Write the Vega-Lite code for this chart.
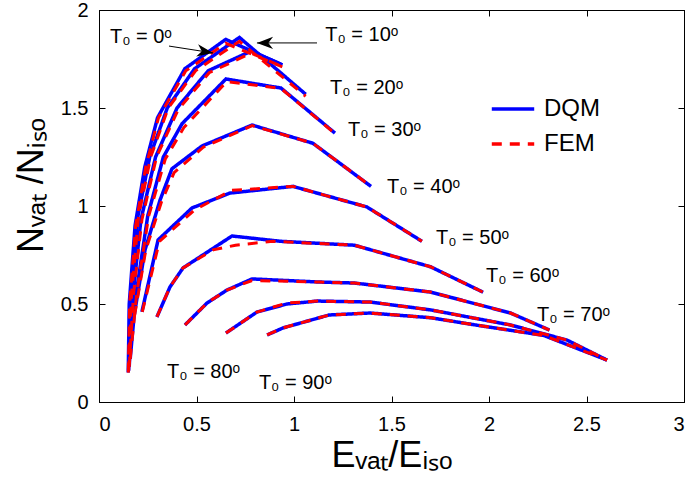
{
  "$schema": "https://vega.github.io/schema/vega-lite/v6.json",
  "width": 585,
  "height": 392,
  "autosize": {"type": "none"},
  "padding": {"left": 99, "top": 10, "right": 11, "bottom": 82},
  "background": "white",
  "config": {
    "view": {"stroke": "black", "strokeWidth": 1},
    "font": "Liberation Sans",
    "axis": {
      "grid": false,
      "domainColor": "black",
      "domainWidth": 1,
      "tickColor": "black",
      "tickWidth": 1,
      "tickSize": -6,
      "labelColor": "black",
      "labelFont": "Liberation Sans",
      "labelFontSize": 20,
      "titleColor": "black",
      "titleFont": "Liberation Sans",
      "titleFontWeight": "normal",
      "titleFontSize": 36
    }
  },
  "datasets": {
    "curves": [
      {"t": 0, "m": "DQM", "o": 0, "x": 0.15, "y": 0.15},
      {"t": 0, "m": "DQM", "o": 1, "x": 0.155, "y": 0.5},
      {"t": 0, "m": "DQM", "o": 2, "x": 0.185, "y": 0.9},
      {"t": 0, "m": "DQM", "o": 3, "x": 0.235, "y": 1.2},
      {"t": 0, "m": "DQM", "o": 4, "x": 0.3, "y": 1.45},
      {"t": 0, "m": "DQM", "o": 5, "x": 0.44, "y": 1.7},
      {"t": 0, "m": "DQM", "o": 6, "x": 0.65, "y": 1.85},
      {"t": 0, "m": "DQM", "o": 7, "x": 0.94, "y": 1.72},
      {"t": 10, "m": "DQM", "o": 0, "x": 0.152, "y": 0.16},
      {"t": 10, "m": "DQM", "o": 1, "x": 0.165, "y": 0.55},
      {"t": 10, "m": "DQM", "o": 2, "x": 0.2, "y": 0.95},
      {"t": 10, "m": "DQM", "o": 3, "x": 0.26, "y": 1.25},
      {"t": 10, "m": "DQM", "o": 4, "x": 0.35, "y": 1.5},
      {"t": 10, "m": "DQM", "o": 5, "x": 0.49, "y": 1.7},
      {"t": 10, "m": "DQM", "o": 6, "x": 0.72, "y": 1.86},
      {"t": 10, "m": "DQM", "o": 7, "x": 1.06, "y": 1.57},
      {"t": 20, "m": "DQM", "o": 0, "x": 0.155, "y": 0.18},
      {"t": 20, "m": "DQM", "o": 1, "x": 0.175, "y": 0.55},
      {"t": 20, "m": "DQM", "o": 2, "x": 0.215, "y": 0.93},
      {"t": 20, "m": "DQM", "o": 3, "x": 0.29, "y": 1.25},
      {"t": 20, "m": "DQM", "o": 4, "x": 0.4, "y": 1.5},
      {"t": 20, "m": "DQM", "o": 5, "x": 0.56, "y": 1.69},
      {"t": 20, "m": "DQM", "o": 6, "x": 0.78, "y": 1.79},
      {"t": 20, "m": "DQM", "o": 7, "x": 0.94, "y": 1.72},
      {"t": 30, "m": "DQM", "o": 0, "x": 0.16, "y": 0.22},
      {"t": 30, "m": "DQM", "o": 1, "x": 0.19, "y": 0.55},
      {"t": 30, "m": "DQM", "o": 2, "x": 0.25, "y": 0.95},
      {"t": 30, "m": "DQM", "o": 3, "x": 0.33, "y": 1.25},
      {"t": 30, "m": "DQM", "o": 4, "x": 0.426, "y": 1.42},
      {"t": 30, "m": "DQM", "o": 5, "x": 0.651, "y": 1.648},
      {"t": 30, "m": "DQM", "o": 6, "x": 0.933, "y": 1.602},
      {"t": 30, "m": "DQM", "o": 7, "x": 1.21, "y": 1.372},
      {"t": 40, "m": "DQM", "o": 0, "x": 0.18, "y": 0.44},
      {"t": 40, "m": "DQM", "o": 1, "x": 0.236, "y": 0.776},
      {"t": 40, "m": "DQM", "o": 2, "x": 0.313, "y": 1.03},
      {"t": 40, "m": "DQM", "o": 3, "x": 0.374, "y": 1.19},
      {"t": 40, "m": "DQM", "o": 4, "x": 0.528, "y": 1.306},
      {"t": 40, "m": "DQM", "o": 5, "x": 0.785, "y": 1.413},
      {"t": 40, "m": "DQM", "o": 6, "x": 1.097, "y": 1.32},
      {"t": 40, "m": "DQM", "o": 7, "x": 1.395, "y": 1.1},
      {"t": 50, "m": "DQM", "o": 0, "x": 0.22, "y": 0.46},
      {"t": 50, "m": "DQM", "o": 1, "x": 0.303, "y": 0.827},
      {"t": 50, "m": "DQM", "o": 2, "x": 0.477, "y": 0.99},
      {"t": 50, "m": "DQM", "o": 3, "x": 0.672, "y": 1.066},
      {"t": 50, "m": "DQM", "o": 4, "x": 0.995, "y": 1.1},
      {"t": 50, "m": "DQM", "o": 5, "x": 1.374, "y": 0.995},
      {"t": 50, "m": "DQM", "o": 6, "x": 1.656, "y": 0.82},
      {"t": 60, "m": "DQM", "o": 0, "x": 0.297, "y": 0.434},
      {"t": 60, "m": "DQM", "o": 1, "x": 0.364, "y": 0.587},
      {"t": 60, "m": "DQM", "o": 2, "x": 0.431, "y": 0.684},
      {"t": 60, "m": "DQM", "o": 3, "x": 0.682, "y": 0.847},
      {"t": 60, "m": "DQM", "o": 4, "x": 0.93, "y": 0.82},
      {"t": 60, "m": "DQM", "o": 5, "x": 1.31, "y": 0.8},
      {"t": 60, "m": "DQM", "o": 6, "x": 1.7, "y": 0.69},
      {"t": 60, "m": "DQM", "o": 7, "x": 1.97, "y": 0.56},
      {"t": 70, "m": "DQM", "o": 0, "x": 0.441, "y": 0.393},
      {"t": 70, "m": "DQM", "o": 1, "x": 0.554, "y": 0.505},
      {"t": 70, "m": "DQM", "o": 2, "x": 0.656, "y": 0.571},
      {"t": 70, "m": "DQM", "o": 3, "x": 0.785, "y": 0.628},
      {"t": 70, "m": "DQM", "o": 4, "x": 1.13, "y": 0.612},
      {"t": 70, "m": "DQM", "o": 5, "x": 1.31, "y": 0.607},
      {"t": 70, "m": "DQM", "o": 6, "x": 1.7, "y": 0.561},
      {"t": 70, "m": "DQM", "o": 7, "x": 2.11, "y": 0.454},
      {"t": 70, "m": "DQM", "o": 8, "x": 2.31, "y": 0.367},
      {"t": 80, "m": "DQM", "o": 0, "x": 0.651, "y": 0.352},
      {"t": 80, "m": "DQM", "o": 1, "x": 0.81, "y": 0.459},
      {"t": 80, "m": "DQM", "o": 2, "x": 0.964, "y": 0.5},
      {"t": 80, "m": "DQM", "o": 3, "x": 1.12, "y": 0.515},
      {"t": 80, "m": "DQM", "o": 4, "x": 1.39, "y": 0.51},
      {"t": 80, "m": "DQM", "o": 5, "x": 1.7, "y": 0.47},
      {"t": 80, "m": "DQM", "o": 6, "x": 2.11, "y": 0.393},
      {"t": 80, "m": "DQM", "o": 7, "x": 2.4, "y": 0.316},
      {"t": 80, "m": "DQM", "o": 8, "x": 2.605, "y": 0.214},
      {"t": 90, "m": "DQM", "o": 0, "x": 0.862, "y": 0.342},
      {"t": 90, "m": "DQM", "o": 1, "x": 0.944, "y": 0.378},
      {"t": 90, "m": "DQM", "o": 2, "x": 1.18, "y": 0.444},
      {"t": 90, "m": "DQM", "o": 3, "x": 1.39, "y": 0.454},
      {"t": 90, "m": "DQM", "o": 4, "x": 1.7, "y": 0.43},
      {"t": 90, "m": "DQM", "o": 5, "x": 1.95, "y": 0.39},
      {"t": 90, "m": "DQM", "o": 6, "x": 2.28, "y": 0.34},
      {"t": 90, "m": "DQM", "o": 7, "x": 2.605, "y": 0.214},

      {"t": 0, "m": "FEM", "o": 0, "x": 0.15, "y": 0.15},
      {"t": 0, "m": "FEM", "o": 1, "x": 0.157, "y": 0.5},
      {"t": 0, "m": "FEM", "o": 2, "x": 0.188, "y": 0.9},
      {"t": 0, "m": "FEM", "o": 3, "x": 0.24, "y": 1.2},
      {"t": 0, "m": "FEM", "o": 4, "x": 0.305, "y": 1.45},
      {"t": 0, "m": "FEM", "o": 5, "x": 0.445, "y": 1.69},
      {"t": 0, "m": "FEM", "o": 6, "x": 0.65, "y": 1.83},
      {"t": 0, "m": "FEM", "o": 7, "x": 0.94, "y": 1.71},
      {"t": 10, "m": "FEM", "o": 0, "x": 0.152, "y": 0.16},
      {"t": 10, "m": "FEM", "o": 1, "x": 0.167, "y": 0.55},
      {"t": 10, "m": "FEM", "o": 2, "x": 0.203, "y": 0.95},
      {"t": 10, "m": "FEM", "o": 3, "x": 0.265, "y": 1.25},
      {"t": 10, "m": "FEM", "o": 4, "x": 0.355, "y": 1.5},
      {"t": 10, "m": "FEM", "o": 5, "x": 0.495, "y": 1.69},
      {"t": 10, "m": "FEM", "o": 6, "x": 0.72, "y": 1.84},
      {"t": 10, "m": "FEM", "o": 7, "x": 1.06, "y": 1.56},
      {"t": 20, "m": "FEM", "o": 0, "x": 0.155, "y": 0.18},
      {"t": 20, "m": "FEM", "o": 1, "x": 0.177, "y": 0.55},
      {"t": 20, "m": "FEM", "o": 2, "x": 0.22, "y": 0.93},
      {"t": 20, "m": "FEM", "o": 3, "x": 0.295, "y": 1.25},
      {"t": 20, "m": "FEM", "o": 4, "x": 0.405, "y": 1.49},
      {"t": 20, "m": "FEM", "o": 5, "x": 0.565, "y": 1.68},
      {"t": 20, "m": "FEM", "o": 6, "x": 0.78, "y": 1.78},
      {"t": 20, "m": "FEM", "o": 7, "x": 0.94, "y": 1.71},
      {"t": 30, "m": "FEM", "o": 0, "x": 0.16, "y": 0.22},
      {"t": 30, "m": "FEM", "o": 1, "x": 0.193, "y": 0.55},
      {"t": 30, "m": "FEM", "o": 2, "x": 0.255, "y": 0.95},
      {"t": 30, "m": "FEM", "o": 3, "x": 0.34, "y": 1.24},
      {"t": 30, "m": "FEM", "o": 4, "x": 0.435, "y": 1.4},
      {"t": 30, "m": "FEM", "o": 5, "x": 0.655, "y": 1.635},
      {"t": 30, "m": "FEM", "o": 6, "x": 0.933, "y": 1.6},
      {"t": 30, "m": "FEM", "o": 7, "x": 1.21, "y": 1.37},
      {"t": 40, "m": "FEM", "o": 0, "x": 0.182, "y": 0.44},
      {"t": 40, "m": "FEM", "o": 1, "x": 0.24, "y": 0.776},
      {"t": 40, "m": "FEM", "o": 2, "x": 0.32, "y": 1.02},
      {"t": 40, "m": "FEM", "o": 3, "x": 0.385, "y": 1.17},
      {"t": 40, "m": "FEM", "o": 4, "x": 0.535, "y": 1.3},
      {"t": 40, "m": "FEM", "o": 5, "x": 0.785, "y": 1.41},
      {"t": 40, "m": "FEM", "o": 6, "x": 1.097, "y": 1.32},
      {"t": 40, "m": "FEM", "o": 7, "x": 1.395, "y": 1.1},
      {"t": 50, "m": "FEM", "o": 0, "x": 0.222, "y": 0.46},
      {"t": 50, "m": "FEM", "o": 1, "x": 0.31, "y": 0.82},
      {"t": 50, "m": "FEM", "o": 2, "x": 0.49, "y": 0.98},
      {"t": 50, "m": "FEM", "o": 3, "x": 0.68, "y": 1.08},
      {"t": 50, "m": "FEM", "o": 4, "x": 0.995, "y": 1.1},
      {"t": 50, "m": "FEM", "o": 5, "x": 1.374, "y": 0.995},
      {"t": 50, "m": "FEM", "o": 6, "x": 1.656, "y": 0.82},
      {"t": 60, "m": "FEM", "o": 0, "x": 0.297, "y": 0.434},
      {"t": 60, "m": "FEM", "o": 1, "x": 0.364, "y": 0.587},
      {"t": 60, "m": "FEM", "o": 2, "x": 0.431, "y": 0.684},
      {"t": 60, "m": "FEM", "o": 3, "x": 0.585, "y": 0.776},
      {"t": 60, "m": "FEM", "o": 4, "x": 0.7, "y": 0.8},
      {"t": 60, "m": "FEM", "o": 5, "x": 0.89, "y": 0.82},
      {"t": 60, "m": "FEM", "o": 6, "x": 1.31, "y": 0.8},
      {"t": 60, "m": "FEM", "o": 7, "x": 1.7, "y": 0.69},
      {"t": 60, "m": "FEM", "o": 8, "x": 1.97, "y": 0.56},
      {"t": 70, "m": "FEM", "o": 0, "x": 0.441, "y": 0.393},
      {"t": 70, "m": "FEM", "o": 1, "x": 0.554, "y": 0.505},
      {"t": 70, "m": "FEM", "o": 2, "x": 0.656, "y": 0.571},
      {"t": 70, "m": "FEM", "o": 3, "x": 0.785, "y": 0.62},
      {"t": 70, "m": "FEM", "o": 4, "x": 1.13, "y": 0.612},
      {"t": 70, "m": "FEM", "o": 5, "x": 1.31, "y": 0.607},
      {"t": 70, "m": "FEM", "o": 6, "x": 1.7, "y": 0.561},
      {"t": 70, "m": "FEM", "o": 7, "x": 2.11, "y": 0.454},
      {"t": 70, "m": "FEM", "o": 8, "x": 2.31, "y": 0.367},
      {"t": 80, "m": "FEM", "o": 0, "x": 0.651, "y": 0.352},
      {"t": 80, "m": "FEM", "o": 1, "x": 0.81, "y": 0.459},
      {"t": 80, "m": "FEM", "o": 2, "x": 0.964, "y": 0.505},
      {"t": 80, "m": "FEM", "o": 3, "x": 1.12, "y": 0.515},
      {"t": 80, "m": "FEM", "o": 4, "x": 1.39, "y": 0.51},
      {"t": 80, "m": "FEM", "o": 5, "x": 1.7, "y": 0.47},
      {"t": 80, "m": "FEM", "o": 6, "x": 2.11, "y": 0.393},
      {"t": 80, "m": "FEM", "o": 7, "x": 2.4, "y": 0.316},
      {"t": 80, "m": "FEM", "o": 8, "x": 2.605, "y": 0.214},
      {"t": 90, "m": "FEM", "o": 0, "x": 0.862, "y": 0.342},
      {"t": 90, "m": "FEM", "o": 1, "x": 0.944, "y": 0.378},
      {"t": 90, "m": "FEM", "o": 2, "x": 1.18, "y": 0.444},
      {"t": 90, "m": "FEM", "o": 3, "x": 1.39, "y": 0.454},
      {"t": 90, "m": "FEM", "o": 4, "x": 1.7, "y": 0.43},
      {"t": 90, "m": "FEM", "o": 5, "x": 1.95, "y": 0.39},
      {"t": 90, "m": "FEM", "o": 6, "x": 2.28, "y": 0.34},
      {"t": 90, "m": "FEM", "o": 7, "x": 2.605, "y": 0.214}
    ],
    "labels": [
      {"label": "T₀ = 0ᵒ", "x": 0.056, "y": 1.86},
      {"label": "T₀ = 10ᵒ", "x": 1.16, "y": 1.87},
      {"label": "T₀ = 20ᵒ", "x": 1.185, "y": 1.6},
      {"label": "T₀ = 30ᵒ", "x": 1.277, "y": 1.388},
      {"label": "T₀ = 40ᵒ", "x": 1.477, "y": 1.097},
      {"label": "T₀ = 50ᵒ", "x": 1.728, "y": 0.837},
      {"label": "T₀ = 60ᵒ", "x": 1.985, "y": 0.643},
      {"label": "T₀ = 70ᵒ", "x": 2.246, "y": 0.444},
      {"label": "T₀ = 80ᵒ", "x": 0.349, "y": 0.153},
      {"label": "T₀ = 90ᵒ", "x": 0.82, "y": 0.097}
    ],
    "arrows": [
      {"a": "T0=0", "x": 0.359, "y": 1.816, "x2": 0.585, "y2": 1.781},
      {"a": "T0=10", "x": 1.118, "y": 1.832, "x2": 0.81, "y2": 1.832}
    ]
  },
  "resolve": {"axis": {"x": "independent", "y": "independent"}},
  "layer": [
    {
      "data": {"name": "curves"},
      "transform": [{"filter": "datum.m === 'DQM'"}],
      "mark": {"type": "line", "strokeWidth": 3.5, "strokeCap": "butt", "strokeJoin": "miter"},
      "encoding": {
        "x": {"field": "x", "type": "quantitative", "scale": {"domain": [0, 3], "nice": false},
              "axis": {"orient": "bottom", "values": [0, 0.5, 1, 1.5, 2, 2.5, 3], "format": "~g", "labelPadding": 18, "title": "Eᵥₐₜ/Eᵢₛₒ", "titlePadding": 4}},
        "y": {"field": "y", "type": "quantitative", "scale": {"domain": [0, 2], "nice": false},
              "axis": {"orient": "left", "values": [0, 0.5, 1, 1.5, 2], "format": "~g", "labelPadding": 17, "title": "Nᵥₐₜ /Nᵢₛₒ", "titlePadding": 10, "titleY": 175}},
        "color": {"field": "m", "type": "nominal", "scale": {"domain": ["DQM", "FEM"], "range": ["#0000ff", "#ff0000"]},
                  "legend": {"title": null, "orient": "none", "legendX": 391, "legendY": 76, "symbolType": "stroke", "symbolSize": 1800, "symbolStrokeWidth": 3.5, "labelFontSize": 24, "labelFont": "Liberation Sans", "labelColor": "black", "labelOffset": 8, "rowPadding": 0, "padding": 0}},
        "strokeDash": {"field": "m", "type": "nominal", "scale": {"domain": ["DQM", "FEM"], "range": [[1, 0], [10, 8]]}},
        "detail": {"field": "t"},
        "order": {"field": "o", "type": "quantitative"}
      }
    },
    {
      "data": {"name": "curves"},
      "transform": [{"filter": "datum.m === 'FEM'"}],
      "mark": {"type": "line", "strokeWidth": 3, "strokeCap": "butt", "strokeJoin": "miter"},
      "encoding": {
        "x": {"field": "x", "type": "quantitative", "axis": {"orient": "top", "values": [0, 0.5, 1, 1.5, 2, 2.5, 3], "labels": false, "title": null}},
        "y": {"field": "y", "type": "quantitative", "axis": {"orient": "right", "values": [0, 0.5, 1, 1.5, 2], "labels": false, "title": null}},
        "color": {"field": "m", "type": "nominal"},
        "strokeDash": {"field": "m", "type": "nominal"},
        "detail": {"field": "t"},
        "order": {"field": "o", "type": "quantitative"}
      }
    },
    {
      "data": {"name": "labels"},
      "mark": {"type": "text", "align": "left", "baseline": "middle", "fontSize": 20, "font": "Liberation Sans", "color": "black"},
      "encoding": {
        "x": {"field": "x", "type": "quantitative", "axis": null},
        "y": {"field": "y", "type": "quantitative", "axis": null},
        "text": {"field": "label"}
      }
    },
    {
      "data": {"name": "arrows"},
      "mark": {"type": "rule", "color": "black", "strokeWidth": 1},
      "encoding": {
        "x": {"field": "x", "type": "quantitative", "axis": null},
        "y": {"field": "y", "type": "quantitative", "axis": null},
        "x2": {"field": "x2"},
        "y2": {"field": "y2"}
      }
    },
    {
      "data": {"name": "arrows"},
      "transform": [{"filter": "datum.a === 'T0=0'"}],
      "mark": {"type": "point", "filled": true, "color": "black", "opacity": 1, "size": 360, "angle": 9, "shape": "M0,0 L-1.7,-0.65 L-1.2,0 L-1.7,0.65 Z"},
      "encoding": {
        "x": {"field": "x2", "type": "quantitative", "axis": null},
        "y": {"field": "y2", "type": "quantitative", "axis": null}
      }
    },
    {
      "data": {"name": "arrows"},
      "transform": [{"filter": "datum.a === 'T0=10'"}],
      "mark": {"type": "point", "filled": true, "color": "black", "opacity": 1, "size": 360, "angle": 180, "shape": "M0,0 L-1.7,-0.65 L-1.2,0 L-1.7,0.65 Z"},
      "encoding": {
        "x": {"field": "x2", "type": "quantitative", "axis": null},
        "y": {"field": "y2", "type": "quantitative", "axis": null}
      }
    }
  ]
}
